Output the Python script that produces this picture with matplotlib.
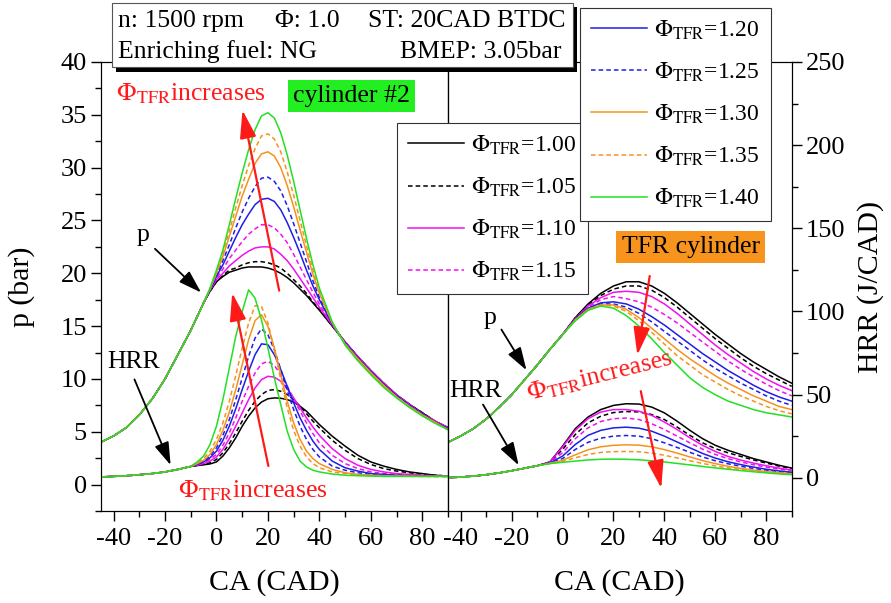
import matplotlib
matplotlib.use("Agg")
import matplotlib.pyplot as plt
from matplotlib.lines import Line2D
from matplotlib.patches import Rectangle
from matplotlib.ticker import MultipleLocator

plt.rcParams["font.family"] = ["Liberation Serif", "DejaVu Serif"]
plt.rcParams["mathtext.fontset"] = "stix"
plt.rcParams["axes.unicode_minus"] = False

# ── crank-angle grids ─────────────────────────────────────────────────────────
CA_L = [-45, -40, -35, -30, -25, -20, -15, -10, -7.5, -5, -2.5, 0, 2.5, 5, 7.5,
        10, 12.5, 15, 17.5, 20, 22.5, 25, 27.5, 30, 32.5, 35, 37.5, 40,
        45, 50, 55, 60, 65, 70, 75, 80, 85, 90]
CA_R = [-45, -40, -35, -30, -25, -20, -15, -10, -5, 0, 5, 10, 15, 20, 25, 30,
        35, 40, 45, 50, 55, 60, 65, 70, 75, 80, 85, 90]

PHI_TFR = ["1.00", "1.05", "1.10", "1.15", "1.20", "1.25", "1.30", "1.35", "1.40"]

# ── cylinder #2: in-cylinder pressure (bar) ──────────────────────────────────
p_c2_100 = [4.0, 4.6, 5.4, 6.6, 8.1, 10.0, 12.3, 14.6, 15.9, 17.2, 18.3, 19.2, 19.7, 20.1, 20.3, 20.5, 20.6, 20.6, 20.6, 20.5, 20.3, 20.0, 19.6, 19.1, 18.5, 17.9, 17.2, 16.5, 15.0, 13.5, 12.1, 10.8, 9.6, 8.5, 7.6, 6.8, 6.0, 5.4]
p_c2_105 = [4.0, 4.6, 5.4, 6.6, 8.1, 10.0, 12.3, 14.6, 15.9, 17.2, 18.3, 19.2, 19.8, 20.3, 20.5, 20.8, 21.0, 21.1, 21.1, 21.0, 20.8, 20.5, 20.0, 19.4, 18.8, 18.1, 17.3, 16.6, 15.0, 13.5, 12.1, 10.8, 9.6, 8.5, 7.6, 6.8, 6.0, 5.4]
p_c2_110 = [4.0, 4.6, 5.4, 6.6, 8.1, 10.0, 12.3, 14.6, 15.9, 17.2, 18.4, 19.4, 20.0, 20.7, 21.2, 21.7, 22.1, 22.4, 22.5, 22.5, 22.3, 21.8, 21.2, 20.4, 19.5, 18.6, 17.7, 16.8, 15.1, 13.5, 12.1, 10.8, 9.6, 8.5, 7.6, 6.7, 6.0, 5.4]
p_c2_115 = [4.0, 4.6, 5.4, 6.6, 8.1, 10.0, 12.3, 14.6, 15.9, 17.2, 18.4, 19.5, 20.4, 21.4, 22.2, 23.0, 23.7, 24.2, 24.6, 24.6, 24.3, 23.7, 22.9, 21.8, 20.6, 19.4, 18.2, 17.1, 15.1, 13.4, 12.0, 10.7, 9.5, 8.5, 7.5, 6.7, 6.0, 5.3]
p_c2_120 = [4.0, 4.6, 5.4, 6.6, 8.1, 10.0, 12.3, 14.6, 15.9, 17.2, 18.4, 19.7, 20.8, 22.1, 23.4, 24.6, 25.6, 26.5, 27.0, 27.1, 26.8, 26.0, 24.8, 23.4, 21.9, 20.3, 18.8, 17.5, 15.2, 13.4, 12.0, 10.7, 9.5, 8.4, 7.5, 6.7, 5.9, 5.3]
p_c2_125 = [4.0, 4.6, 5.4, 6.6, 8.1, 10.0, 12.3, 14.6, 15.9, 17.2, 18.4, 19.8, 21.2, 22.7, 24.3, 25.8, 27.1, 28.2, 29.0, 29.1, 28.7, 27.8, 26.4, 24.7, 22.9, 21.1, 19.3, 17.7, 15.2, 13.4, 11.9, 10.6, 9.4, 8.4, 7.5, 6.6, 5.9, 5.3]
p_c2_130 = [4.0, 4.6, 5.4, 6.6, 8.1, 10.0, 12.3, 14.6, 15.9, 17.2, 18.5, 20.0, 21.6, 23.5, 25.4, 27.3, 28.9, 30.4, 31.3, 31.5, 31.1, 30.0, 28.3, 26.3, 24.1, 22.0, 19.9, 18.1, 15.3, 13.3, 11.9, 10.6, 9.4, 8.3, 7.4, 6.6, 5.9, 5.2]
p_c2_135 = [4.0, 4.6, 5.4, 6.6, 8.1, 10.0, 12.3, 14.6, 15.9, 17.2, 18.5, 20.2, 21.9, 24.0, 26.2, 28.3, 30.2, 31.8, 33.0, 33.2, 32.7, 31.5, 29.6, 27.4, 25.0, 22.6, 20.3, 18.3, 15.3, 13.3, 11.8, 10.5, 9.3, 8.3, 7.4, 6.6, 5.8, 5.2]
p_c2_140 = [4.0, 4.6, 5.4, 6.6, 8.1, 10.0, 12.3, 14.6, 15.9, 17.2, 18.6, 20.3, 22.2, 24.6, 27.1, 29.5, 31.7, 33.6, 34.9, 35.2, 34.7, 33.3, 31.2, 28.7, 26.0, 23.3, 20.8, 18.6, 15.4, 13.2, 11.7, 10.4, 9.2, 8.2, 7.3, 6.5, 5.8, 5.2]

# ── cylinder #2: heat release rate (J/CAD) ───────────────────────────────────
h_c2_100 = [0.5, 0.8, 1.2, 1.8, 2.5, 3.5, 5.0, 6.8, 7.3, 7.8, 8.3, 9.5, 13, 18, 24, 31, 37, 42, 45.5, 47.5, 48, 47.8, 47, 45.5, 43, 40, 36, 32, 25, 19, 13.5, 9.5, 7, 5, 3.5, 2.5, 1.5, 1.0]
h_c2_105 = [0.5, 0.8, 1.2, 1.8, 2.5, 3.5, 5.0, 6.8, 7.3, 8.0, 9.0, 11, 15, 20.5, 27, 34, 40.5, 46, 50, 52.5, 53, 52, 50, 47, 43, 38.5, 34, 30, 22.5, 16.5, 11.5, 8, 5.5, 4, 3, 2, 1.5, 1.0]
h_c2_110 = [0.5, 0.8, 1.2, 1.8, 2.5, 3.5, 5.0, 6.8, 7.5, 8.5, 10, 12.5, 17, 23.5, 31, 39, 47, 54, 59, 61, 60.5, 58, 53.5, 48, 42, 36, 30.5, 25.5, 17.5, 11.5, 7.5, 5, 3.5, 2.5, 2, 1.5, 1.2, 1.0]
h_c2_115 = [0.5, 0.8, 1.2, 1.8, 2.5, 3.5, 5.0, 6.8, 7.8, 9, 11, 14, 19.5, 27, 36, 46, 55, 63, 68.5, 70, 67.5, 62, 55, 47.5, 40, 33, 26.5, 21, 13.5, 8.5, 5.5, 3.5, 2.5, 2, 1.5, 1.2, 1.0, 0.8]
h_c2_120 = [0.5, 0.8, 1.2, 1.8, 2.5, 3.5, 5.0, 6.8, 8, 9.5, 12, 16, 22.5, 31, 41.5, 53, 64, 74, 80.5, 80, 74, 65, 55, 45, 36, 28.5, 22, 17, 10, 6, 4, 2.5, 2, 1.5, 1.2, 1.0, 1.0, 0.8]
h_c2_125 = [0.5, 0.8, 1.2, 1.8, 2.5, 3.5, 5.0, 6.8, 8.2, 10, 13, 18, 25.5, 35, 47, 60, 73, 84, 89.5, 86, 77, 65, 52.5, 41, 31, 23, 17, 12.5, 7, 4.5, 3, 2, 1.5, 1.2, 1.0, 1.0, 0.8, 0.8]
h_c2_130 = [0.5, 0.8, 1.2, 1.8, 2.5, 3.5, 5.0, 6.8, 8.5, 10.5, 14, 20, 28.5, 39.5, 53, 68, 83, 94.5, 98, 91, 78, 62, 46, 33, 23, 16, 11.5, 8.5, 5, 3, 2, 1.5, 1.2, 1.0, 1.0, 0.8, 0.8, 0.8]
h_c2_135 = [0.5, 0.8, 1.2, 1.8, 2.5, 3.5, 5.0, 6.8, 8.8, 11.5, 16, 23, 33, 46, 61.5, 78, 93, 103.5, 103, 93, 77, 59, 42, 28.5, 19, 12.5, 8.5, 6, 3.5, 2.5, 1.8, 1.3, 1.0, 1.0, 0.8, 0.8, 0.8, 0.8]
h_c2_140 = [0.5, 0.8, 1.2, 1.8, 2.5, 3.5, 5.0, 6.8, 9.5, 13, 20, 31, 47, 66, 85, 100, 113, 108, 95, 78, 60, 44, 28, 17, 10, 6.5, 4.5, 3.5, 2.2, 1.5, 1.2, 1.0, 0.8, 0.8, 0.8, 0.8, 0.8, 0.8]

# ── TFR cylinder: in-cylinder pressure (bar) ─────────────────────────────────
p_tfr_100 = [4.0, 4.6, 5.3, 6.2, 7.3, 8.5, 9.9, 11.3, 12.8, 14.2, 15.8, 17.1, 18.1, 18.8, 19.2, 19.2, 18.8, 18.1, 17.2, 16.2, 15.2, 14.2, 13.3, 12.4, 11.6, 10.9, 10.2, 9.6]
p_tfr_105 = [4.0, 4.6, 5.3, 6.2, 7.3, 8.5, 9.9, 11.3, 12.8, 14.2, 15.8, 17.0, 17.9, 18.5, 18.8, 18.8, 18.4, 17.7, 16.8, 15.8, 14.8, 13.8, 12.9, 12.0, 11.2, 10.5, 9.9, 9.3]
p_tfr_110 = [4.0, 4.6, 5.3, 6.2, 7.3, 8.5, 9.9, 11.3, 12.8, 14.2, 15.7, 16.9, 17.7, 18.2, 18.3, 18.2, 17.8, 17.1, 16.2, 15.2, 14.2, 13.2, 12.3, 11.5, 10.7, 10.0, 9.4, 8.9]
p_tfr_115 = [4.0, 4.6, 5.3, 6.2, 7.3, 8.5, 9.9, 11.3, 12.8, 14.2, 15.7, 16.8, 17.5, 17.8, 17.6, 17.3, 16.8, 16.1, 15.3, 14.4, 13.5, 12.6, 11.7, 10.9, 10.2, 9.5, 8.9, 8.4]
p_tfr_120 = [4.0, 4.6, 5.3, 6.2, 7.3, 8.5, 9.9, 11.3, 12.8, 14.2, 15.7, 16.7, 17.2, 17.3, 17.1, 16.6, 15.9, 15.1, 14.2, 13.3, 12.4, 11.6, 10.8, 10.1, 9.4, 8.8, 8.3, 7.9]
p_tfr_125 = [4.0, 4.6, 5.3, 6.2, 7.3, 8.5, 9.9, 11.3, 12.8, 14.2, 15.6, 16.6, 17.1, 17.1, 16.8, 16.2, 15.4, 14.5, 13.6, 12.7, 11.8, 11.0, 10.3, 9.6, 9.0, 8.4, 7.9, 7.5]
p_tfr_130 = [4.0, 4.6, 5.3, 6.2, 7.3, 8.5, 9.9, 11.3, 12.8, 14.2, 15.6, 16.6, 17.0, 17.0, 16.6, 15.8, 14.8, 13.8, 12.8, 11.9, 11.1, 10.3, 9.6, 9.0, 8.4, 7.9, 7.4, 7.1]
p_tfr_135 = [4.0, 4.6, 5.3, 6.2, 7.3, 8.5, 9.9, 11.3, 12.8, 14.2, 15.6, 16.5, 17.0, 16.9, 16.4, 15.5, 14.4, 13.3, 12.2, 11.3, 10.4, 9.7, 9.0, 8.4, 7.9, 7.4, 7.0, 6.7]
p_tfr_140 = [4.0, 4.6, 5.3, 6.2, 7.3, 8.5, 9.9, 11.3, 12.8, 14.2, 15.5, 16.5, 16.9, 16.7, 16.0, 15.0, 13.8, 12.5, 11.3, 10.1, 9.2, 8.5, 7.9, 7.5, 7.1, 6.8, 6.6, 6.4]

# ── TFR cylinder: heat release rate (J/CAD) ──────────────────────────────────
h_tfr_100 = [0.0, 0.4, 1.0, 1.8, 2.9, 4.2, 5.7, 7.2, 9.5, 19, 29.5, 36.5, 41, 43.5, 44.5, 44.3, 42.5, 39, 34, 28.5, 23.5, 19.5, 16.5, 14, 11.5, 9.5, 7.5, 5.8]
h_tfr_105 = [0.0, 0.4, 1.0, 1.8, 2.9, 4.2, 5.7, 7.2, 9.3, 17, 26, 33, 37, 39.2, 39.8, 39.6, 38, 35, 30.5, 25.5, 21, 17.5, 15, 12.8, 10.7, 8.8, 7, 5.5]
h_tfr_110 = [0.0, 0.4, 1.0, 1.8, 2.9, 4.2, 5.7, 7.2, 9.4, 18.5, 28.5, 35.5, 39.5, 41, 41, 40, 37.5, 33.5, 29, 24, 19.5, 15.8, 12.8, 10.6, 8.8, 7.2, 5.8, 4.6]
h_tfr_115 = [0.0, 0.4, 1.0, 1.8, 2.9, 4.2, 5.7, 7.2, 9.1, 15, 23.5, 30, 33.8, 35.5, 35.9, 35, 32.5, 29, 25, 21, 17.2, 14, 11.5, 9.5, 7.8, 6.4, 5.2, 4.2]
h_tfr_120 = [0.0, 0.4, 1.0, 1.8, 2.9, 4.2, 5.7, 7.2, 8.9, 13, 20, 25.5, 28.5, 30, 30.4, 29.8, 28, 25, 21.5, 18, 14.6, 11.8, 9.6, 7.9, 6.4, 5.1, 4.1, 3.3]
h_tfr_125 = [0.0, 0.4, 1.0, 1.8, 2.9, 4.2, 5.7, 7.2, 8.8, 11.5, 17, 21.3, 23.8, 25, 25.4, 25, 23.5, 21, 18.2, 15.3, 12.5, 10.2, 8.4, 6.9, 5.6, 4.6, 3.7, 3.0]
h_tfr_130 = [0.0, 0.4, 1.0, 1.8, 2.9, 4.2, 5.7, 7.2, 8.7, 10.5, 13.8, 16.8, 18.6, 19.5, 19.8, 19.6, 18.6, 16.9, 14.8, 12.5, 10.3, 8.5, 6.9, 5.6, 4.6, 3.7, 3.0, 2.4]
h_tfr_135 = [0.0, 0.4, 1.0, 1.8, 2.9, 4.2, 5.7, 7.2, 8.6, 9.8, 12, 14, 15.2, 15.7, 15.8, 15.6, 14.8, 13.5, 11.9, 10.2, 8.6, 7.1, 5.9, 4.9, 4.0, 3.3, 2.7, 2.2]
h_tfr_140 = [0.0, 0.4, 1.0, 1.8, 2.9, 4.2, 5.7, 7.2, 8.5, 9.3, 10, 10.7, 11.1, 11.2, 11.1, 10.8, 10.2, 9.5, 8.6, 7.7, 6.8, 5.9, 5.1, 4.3, 3.6, 2.9, 2.3, 1.8]

P_C2 = [p_c2_100, p_c2_105, p_c2_110, p_c2_115, p_c2_120, p_c2_125, p_c2_130, p_c2_135, p_c2_140]
H_C2 = [h_c2_100, h_c2_105, h_c2_110, h_c2_115, h_c2_120, h_c2_125, h_c2_130, h_c2_135, h_c2_140]
P_TFR = [p_tfr_100, p_tfr_105, p_tfr_110, p_tfr_115, p_tfr_120, p_tfr_125, p_tfr_130, p_tfr_135, p_tfr_140]
H_TFR = [h_tfr_100, h_tfr_105, h_tfr_110, h_tfr_115, h_tfr_120, h_tfr_125, h_tfr_130, h_tfr_135, h_tfr_140]

# line styles: solid / short dashes, one colour per pair of Φ_TFR
C_BLK, C_MAG, C_BLU, C_ORA, C_GRN = "#000000", "#F010F0", "#1E1EE6", "#F5921E", "#22E022"
COLORS = [C_BLK, C_BLK, C_MAG, C_MAG, C_BLU, C_BLU, C_ORA, C_ORA, C_GRN]
DASH = (0, (3, 2))
STYLES = ["-", DASH, "-", DASH, "-", DASH, "-", DASH, "-"]
LW = 1.1

FS_TICK = 19
FS_LAB = 21.5
FS_TXT = 18.5
FS_LEG = 17

W, H = 891, 603
fig = plt.figure(figsize=(W / 100, H / 100), dpi=100)


def fx(px):
    return px / W


def fy(py):
    return 1 - py / H


bot, hgt = fy(511), (511 - 62) / H
axL = fig.add_axes([fx(100.7), bot, (448 - 100.7) / W, hgt])
axR = fig.add_axes([fx(448), bot, (791.7 - 448) / W, hgt])
axL2 = axL.twinx()
axR2 = axR.twinx()

P_LIM = (-2.5, 40)
H_LIM = (-20, 250)

for c, ls, p, h in zip(COLORS, STYLES, P_C2, H_C2):
    axL.plot(CA_L, p, color=c, ls=ls, lw=LW)
    axL2.plot(CA_L, h, color=c, ls=ls, lw=LW)
for c, ls, p, h in zip(COLORS, STYLES, P_TFR, H_TFR):
    axR.plot(CA_R, p, color=c, ls=ls, lw=LW)
    axR2.plot(CA_R, h, color=c, ls=ls, lw=LW)

for ax in (axL, axR):
    ax.set_xlim(-45, 90)
    ax.set_ylim(*P_LIM)
    ax.xaxis.set_major_locator(MultipleLocator(20))
    ax.xaxis.set_minor_locator(MultipleLocator(10))
    ax.tick_params(axis="x", which="both", direction="out", top=False,
                   labelsize=FS_TICK, pad=5)
    ax.tick_params(axis="x", which="major", length=7, width=1)
    ax.tick_params(axis="x", which="minor", length=4, width=1)
    ax.set_xlabel("CA (CAD)", fontsize=FS_LAB)
    ax.xaxis.set_label_coords(0.5, -0.13)
for ax in (axL2, axR2):
    ax.set_ylim(*H_LIM)

axL.yaxis.set_major_locator(MultipleLocator(5))
axL.yaxis.set_minor_locator(MultipleLocator(2.5))
axL.tick_params(axis="y", which="both", direction="out", right=False,
                labelsize=FS_TICK, pad=3)
axL.tick_params(axis="y", which="major", length=7, width=1)
axL.tick_params(axis="y", which="minor", length=4, width=1)
axL.set_ylabel("p (bar)", fontsize=FS_LAB)
axL.yaxis.set_label_coords(-0.19, 0.5)
axL2.set_yticks([])
axR.set_yticks([])

axR2.yaxis.set_major_locator(MultipleLocator(50))
axR2.yaxis.set_minor_locator(MultipleLocator(25))
axR2.tick_params(axis="y", which="both", direction="out", labelsize=FS_TICK, pad=3)
axR2.tick_params(axis="y", which="major", length=7, width=1)
axR2.tick_params(axis="y", which="minor", length=4, width=1)
axR2.set_ylabel("HRR (J/CAD)", fontsize=FS_LAB)
axR2.yaxis.set_label_coords(1.19, 0.5)

# ── annotations (coordinates in the pressure axes of each panel) ──────────────
RED = "#FF1A1A"
red_kw = dict(arrowstyle="-|>,head_length=1.7,head_width=0.5", color=RED, lw=1.6)
blk_kw = dict(arrowstyle="-|>,head_length=1.4,head_width=0.45", color="black", lw=1.3)
phi_inc = r"$\Phi_{\mathrm{TFR}}$increases"

axL2.annotate("", xy=(9.9, 35.7), xytext=(24.6, 18.1), xycoords=axL.transData,
              textcoords=axL.transData, arrowprops=red_kw)
axL2.annotate("", xy=(5.9, 18.4), xytext=(20.4, 1.5), xycoords=axL.transData,
              textcoords=axL.transData, arrowprops=red_kw)
axL2.annotate("", xy=(-5.2, 18.0), xytext=(-24.7, 22.5), xycoords=axL.transData,
              textcoords=axL.transData, arrowprops=blk_kw)
axL2.annotate("", xy=(-17.4, 1.6), xytext=(-32.3, 10.2), xycoords=axL.transData,
              textcoords=axL.transData, arrowprops=blk_kw)
axL2.text(-28.5, 23.6, "p", transform=axL.transData, fontsize=FS_TXT,
          ha="center", va="center")
axL2.text(-32.3, 11.6, "HRR", transform=axL.transData, fontsize=FS_TXT,
          ha="center", va="center")
axL2.text(-9.9, 37.0, phi_inc, transform=axL.transData, fontsize=FS_TXT,
          color=RED, ha="center", va="center")
axL2.text(14.2, -0.6, phi_inc, transform=axL.transData, fontsize=FS_TXT,
          color=RED, ha="center", va="center")
axL2.text(52.4, 36.8, "cylinder #2", transform=axL.transData, fontsize=FS_TXT,
          ha="center", va="center",
          bbox=dict(boxstyle="square,pad=0.2", fc="#22EE22", ec="none"))

axR2.annotate("", xy=(29.2, 12.0), xytext=(34.4, 20.0), xycoords=axR.transData,
              textcoords=axR.transData, arrowprops=red_kw)
axR2.annotate("", xy=(39.0, -0.6), xytext=(30.5, 9.1), xycoords=axR.transData,
              textcoords=axR.transData, arrowprops=red_kw)
axR2.annotate("", xy=(-13.6, 10.6), xytext=(-24.6, 14.9), xycoords=axR.transData,
              textcoords=axR.transData, arrowprops=blk_kw)
axR2.annotate("", xy=(-16.7, 1.6), xytext=(-31.8, 7.8), xycoords=axR.transData,
              textcoords=axR.transData, arrowprops=blk_kw)
axR2.text(-28.5, 15.8, "p", transform=axR.transData, fontsize=FS_TXT,
          ha="center", va="center")
axR2.text(-34.0, 8.9, "HRR", transform=axR.transData, fontsize=FS_TXT,
          ha="center", va="center")
axR2.text(14.7, 10.3, phi_inc, transform=axR.transData, fontsize=FS_TXT,
          color=RED, ha="center", va="center", rotation=14)
axR2.text(50.3, 22.5, "TFR cylinder", transform=axR.transData, fontsize=FS_TXT,
          ha="center", va="center",
          bbox=dict(boxstyle="square,pad=0.2", fc="#F7941D", ec="none"))

# ── operating-condition box with drop shadow ─────────────────────────────────
fig.add_artist(Rectangle((fx(116), fy(72)), (577 - 116) / W, (72 - 7) / H,
                         transform=fig.transFigure, fc="black", ec="none"))
fig.add_artist(Rectangle((fx(112), fy(67)), (573 - 112) / W, (67 - 3) / H,
                         transform=fig.transFigure, fc="white", ec="#555555", lw=0.8))
fig.text(fx(118), fy(21), "n: 1500 rpm", fontsize=FS_TXT, va="center", ha="left")
fig.text(fx(275), fy(21), "Φ: 1.0", fontsize=FS_TXT, va="center", ha="left")
fig.text(fx(566), fy(21), "ST: 20CAD BTDC", fontsize=FS_TXT, va="center", ha="right")
fig.text(fx(118), fy(52), "Enriching fuel: NG", fontsize=FS_TXT, va="center", ha="left")
fig.text(fx(561), fy(52), "BMEP: 3.05bar", fontsize=FS_TXT, va="center", ha="right")

# ── legends ──────────────────────────────────────────────────────────────────
handles = [Line2D([], [], color=c, ls=ls, lw=LW) for c, ls in zip(COLORS, STYLES)]
labels = [r"$\Phi_{\mathrm{TFR}}$=" + v for v in PHI_TFR]
leg_kw = dict(frameon=True, fancybox=False, edgecolor="#333333", framealpha=1,
              fontsize=FS_LEG, handlelength=2.4, handletextpad=0.3,
              labelspacing=0.8, borderpad=0.45, borderaxespad=0)
leg1 = fig.legend(handles[:4], labels[:4], loc="upper left",
                  bbox_to_anchor=(fx(397), fy(123)), **leg_kw)
leg2 = fig.legend(handles[4:], labels[4:], loc="lower left",
                  bbox_to_anchor=(fx(580), fy(221)), **leg_kw)
for leg in (leg1, leg2):
    leg.get_frame().set_linewidth(0.8)

fig.savefig("out.png", dpi=100)
